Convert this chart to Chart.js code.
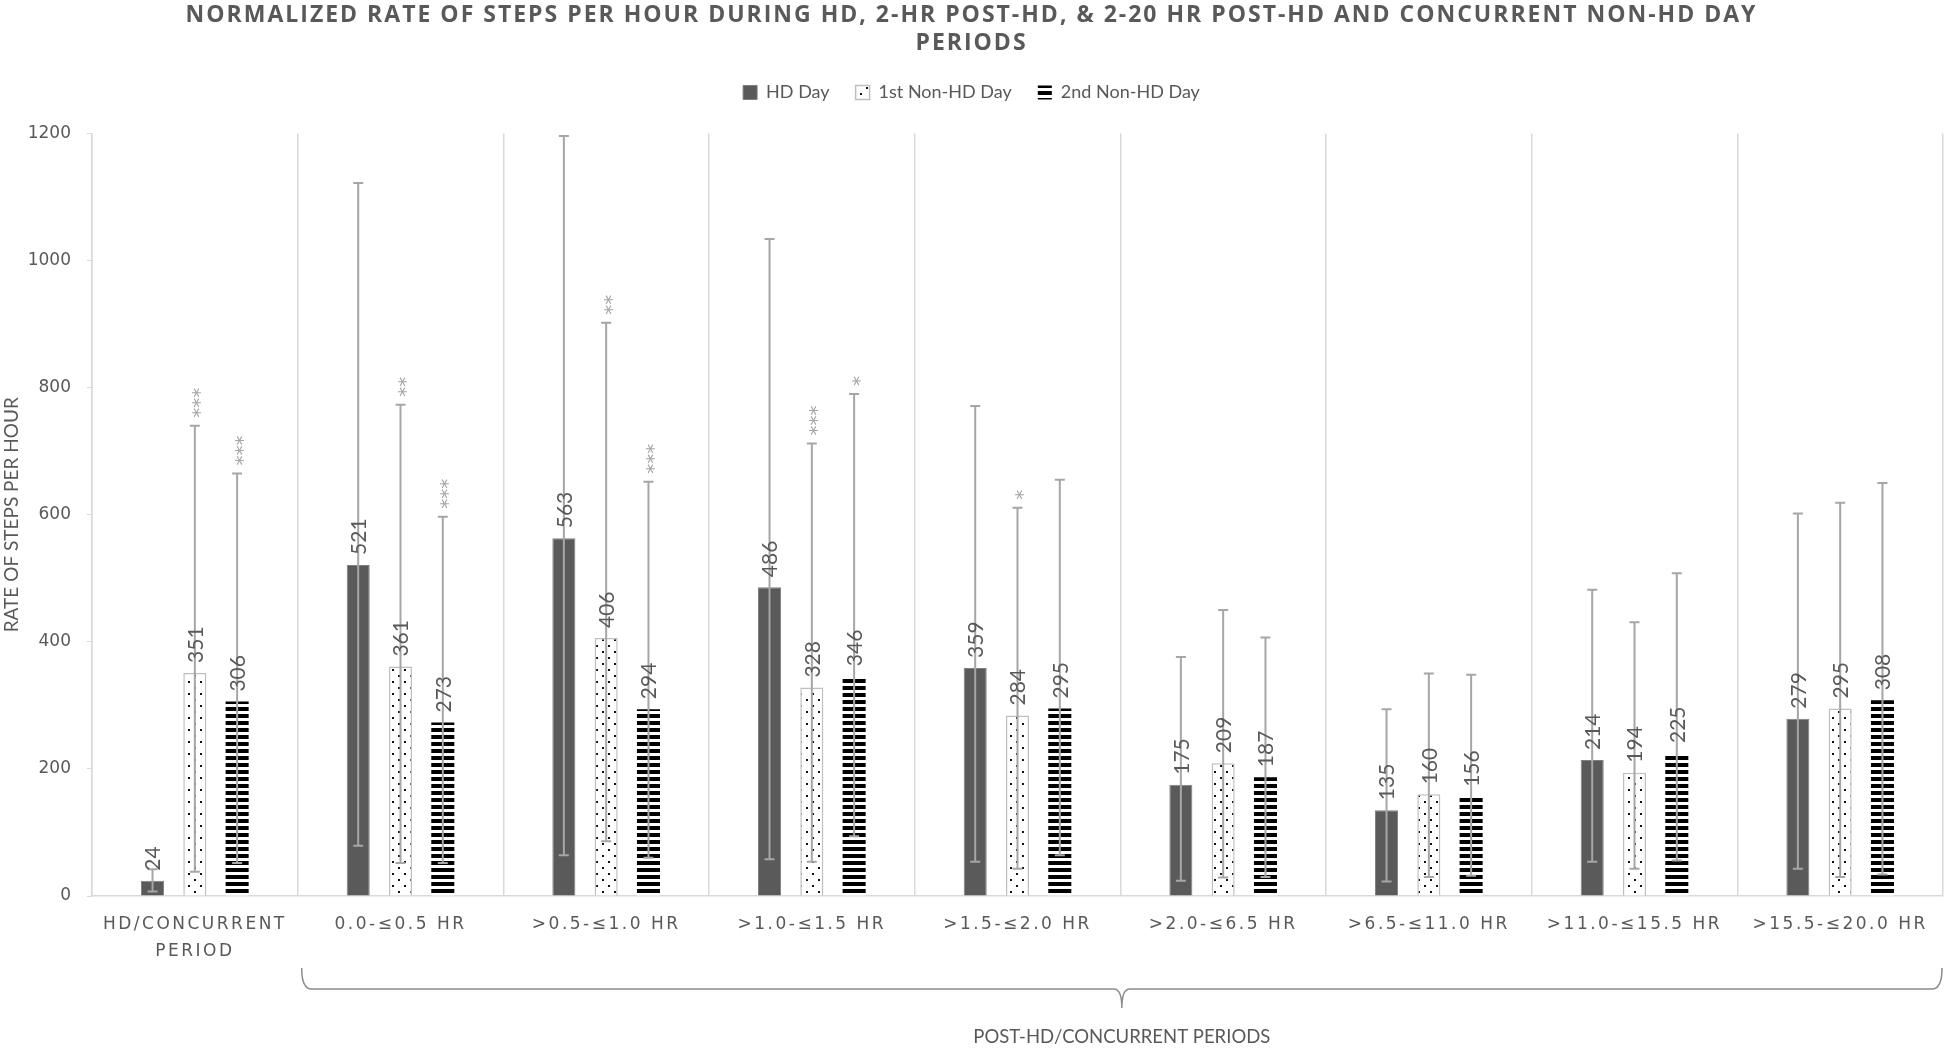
<!DOCTYPE html>
<html>
<head>
<meta charset="utf-8">
<script src="https://cdn.jsdelivr.net/npm/chart.js@4"></script>
<style>
  html, body { margin: 0; padding: 0; background: #fff; }
  #area { width: 1946px; height: 1053px; }
</style>
</head>
<body>
<div id="area"><canvas id="grafico"></canvas></div>
<script>
// dados
const categorias = [['HD/CONCURRENT', 'PERIOD'], '0.0-≤0.5 HR', '>0.5-≤1.0 HR', '>1.0-≤1.5 HR', '>1.5-≤2.0 HR',
    '>2.0-≤6.5 HR', '>6.5-≤11.0 HR', '>11.0-≤15.5 HR', '>15.5-≤20.0 HR'];

const hdDay = [24, 521, 563, 486, 359, 175, 135, 214, 279];
const primeiroNaoHd = [351, 361, 406, 328, 284, 209, 160, 194, 295];
const segundoNaoHd = [306, 273, 294, 346, 295, 187, 156, 225, 308];

// barras de erro (limite superior / inferior)
const hdSuperior = [42, 1122, 1196, 1034, 771, 376, 294, 482, 602];
const hdInferior = [7, 79, 64, 58, 54, 24, 23, 54, 43];
const primeiroSuperior = [740, 773, 902, 712, 611, 450, 350, 431, 619];
const primeiroInferior = [38, 52, 86, 54, 43, 29, 30, 43, 30];
const segundoSuperior = [665, 597, 652, 790, 655, 407, 348, 508, 650];
const segundoInferior = [52, 52, 60, 94, 64, 30, 32, 56, 34];

// significância
const hdAsteriscos = ['', '', '', '', '', '', '', '', ''];
const primeiroAsteriscos = ['***', '**', '**', '***', '*', '', '', '', ''];
const segundoAsteriscos = ['***', '***', '***', '*', '', '', '', '', ''];

const ticksY = [0, 200, 400, 600, 800, 1000, 1200];

// padrões de preenchimento
function padraoPontos() {
    const c = document.createElement('canvas');
    c.width = 12; c.height = 12;
    const g = c.getContext('2d');
    g.fillStyle = '#fff';
    g.fillRect(0, 0, 12, 12);
    g.fillStyle = '#111';
    g.fillRect(2, 3, 2, 2);
    g.fillRect(8, 9, 2, 2);
    return g.createPattern(c, 'repeat');
}

function padraoListras() {
    const c = document.createElement('canvas');
    c.width = 8; c.height = 7;
    const g = c.getContext('2d');
    g.fillStyle = '#fff';
    g.fillRect(0, 0, 8, 7);
    g.fillStyle = '#000';
    g.fillRect(0, 0, 8, 4);
    return g.createPattern(c, 'repeat');
}

// espaçamento de letras no título e nos rótulos do eixo x
const espacamento = {
    id: 'espacamento',
    afterInit(chart) {
        const titulo = chart.titleBlock;
        const desenhaTitulo = titulo.draw;
        titulo.draw = function (area) {
            chart.ctx.save();
            chart.ctx.letterSpacing = '2px';
            desenhaTitulo.call(this, area);
            chart.ctx.restore();
        };
        const legenda = chart.legend;
        const ajusta = legenda.fit;
        legenda.fit = function () {
            ajusta.call(this);
            this.height += 22;
        };
    },
    beforeDraw(chart) {
        const x = chart.scales.x;
        if (x._espacado) return;
        const desenha = x.drawLabels;
        x.drawLabels = function (area) {
            chart.ctx.save();
            chart.ctx.letterSpacing = '2.5px';
            desenha.call(this, area);
            chart.ctx.restore();
        };
        x._espacado = true;
    }
};

// barras de erro, rótulos e asteriscos
const barrasErro = {
    id: 'barrasErro',
    afterDatasetsDraw(chart) {
        const ctx = chart.ctx;
        const y = chart.scales.y;
        chart.data.datasets.forEach((ds, i) => {
            chart.getDatasetMeta(i).data.forEach((bar, j) => {
                const topo = y.getPixelForValue(ds.superior[j]);
                const base = y.getPixelForValue(ds.inferior[j]);
                ctx.save();
                ctx.strokeStyle = '#a6a6a6';
                ctx.lineWidth = 2;
                ctx.beginPath();
                ctx.moveTo(bar.x, topo); ctx.lineTo(bar.x, base);
                ctx.moveTo(bar.x - 5, topo); ctx.lineTo(bar.x + 5, topo);
                ctx.moveTo(bar.x - 5, base); ctx.lineTo(bar.x + 5, base);
                ctx.stroke();
                ctx.restore();

                ctx.save();
                ctx.translate(bar.x, bar.y - 10);
                ctx.rotate(-Math.PI / 2);
                ctx.font = '21px Lato';
                ctx.fillStyle = '#595959';
                ctx.textAlign = 'left';
                ctx.textBaseline = 'middle';
                ctx.fillText(ds.data[j], 0, 1);
                ctx.restore();

                if (ds.asteriscos[j]) {
                    ctx.save();
                    ctx.translate(bar.x, topo - 8);
                    ctx.rotate(-Math.PI / 2);
                    ctx.font = '20px "DejaVu Sans"';
                    ctx.fillStyle = '#a6a6a6';
                    ctx.textAlign = 'left';
                    ctx.textBaseline = 'alphabetic';
                    ctx.fillText(ds.asteriscos[j], 0, 11.5);
                    ctx.restore();
                }
            });
        });
    }
};

// chave abaixo dos períodos pós-HD
const chave = {
    id: 'chave',
    afterDraw(chart) {
        const x = chart.scales.x;
        const ctx = chart.ctx;
        const esq = (x.getPixelForValue(0) + x.getPixelForValue(1)) / 2 + 4;
        const dir = x.right - 1;
        const meio = (esq + dir) / 2;
        const y0 = 968, y1 = 989, y2 = 1008;
        ctx.save();
        ctx.strokeStyle = '#8c8c8c';
        ctx.lineWidth = 1.5;
        ctx.beginPath();
        ctx.moveTo(esq, y0);
        ctx.quadraticCurveTo(esq, y1, esq + 10, y1);
        ctx.lineTo(meio - 8, y1);
        ctx.quadraticCurveTo(meio, y1, meio, y2);
        ctx.quadraticCurveTo(meio, y1, meio + 8, y1);
        ctx.lineTo(dir - 10, y1);
        ctx.quadraticCurveTo(dir, y1, dir, y0);
        ctx.stroke();
        ctx.font = '18.5px Lato';
        ctx.fillStyle = '#595959';
        ctx.textAlign = 'center';
        ctx.textBaseline = 'middle';
        ctx.fillText('POST-HD/CONCURRENT PERIODS', meio, 1037);
        ctx.restore();
    }
};

const ctx = document.getElementById('grafico');
new Chart(ctx, {
    type: 'bar',
    data: {
        labels: categorias,
        datasets: [{
            label: 'HD Day',
            data: hdDay,
            superior: hdSuperior,
            inferior: hdInferior,
            asteriscos: hdAsteriscos,
            backgroundColor: '#5a5a5a',
            borderColor: '#808080',
            borderWidth: 1
        }, {
            label: '1st Non-HD Day',
            data: primeiroNaoHd,
            superior: primeiroSuperior,
            inferior: primeiroInferior,
            asteriscos: primeiroAsteriscos,
            backgroundColor: padraoPontos(),
            borderColor: '#bfbfbf',
            borderWidth: 1.5
        }, {
            label: '2nd Non-HD Day',
            data: segundoNaoHd,
            superior: segundoSuperior,
            inferior: segundoInferior,
            asteriscos: segundoAsteriscos,
            backgroundColor: padraoListras(),
            borderWidth: 0
        }]
    },
    options: {
        responsive: true,
        maintainAspectRatio: false,
        animation: false,
        categoryPercentage: 0.617,
        barPercentage: 0.545,
        layout: { padding: { left: 0, right: 3, top: 0, bottom: 0 } },
        plugins: {
            title: {
                display: true,
                text: ['NORMALIZED RATE OF STEPS PER HOUR DURING HD, 2-HR POST-HD, & 2-20 HR POST-HD AND CONCURRENT NON-HD DAY', 'PERIODS'],
                color: '#595959',
                font: { family: 'Open Sans', size: 23, weight: 'bold', lineHeight: 1.217 },
                padding: { top: 1.5, bottom: 0 }
            },
            legend: {
                display: true,
                position: 'top',
                labels: {
                    color: '#595959',
                    font: { family: 'Lato', size: 18 },
                    boxWidth: 14,
                    boxHeight: 14,
                    padding: 26
                }
            },
            tooltip: { enabled: false }
        },
        scales: {
            x: {
                grid: { offset: true, color: '#d9d9d9', lineWidth: 1.5, drawTicks: false },
                border: { color: '#d9d9d9', width: 1.5 },
                ticks: {
                    color: '#595959',
                    font: { family: 'DejaVu Sans', size: 17, lineHeight: 1.6 },
                    padding: 15,
                    maxRotation: 0,
                    autoSkip: false
                },
                afterFit(s) { s.height = 157; }
            },
            y: {
                min: 0,
                max: 1200,
                afterBuildTicks(s) { s.ticks = ticksY.map(v => ({ value: v })); },
                grid: { drawOnChartArea: false, drawTicks: true, tickLength: 5, color: '#d9d9d9' },
                border: { color: '#d9d9d9', width: 1.5 },
                ticks: {
                    color: '#595959',
                    font: { family: 'DejaVu Sans', size: 17 },
                    padding: 16,
                    callback: v => String(v)
                },
                title: {
                    display: true,
                    text: 'RATE OF STEPS PER HOUR',
                    color: '#595959',
                    font: { family: 'Lato', size: 19 },
                    padding: { top: 0, bottom: 0 }
                },
                afterFit(s) { s.width = 92; }
            }
        }
    },
    plugins: [espacamento, barrasErro, chave]
});
</script>
</body>
</html>
